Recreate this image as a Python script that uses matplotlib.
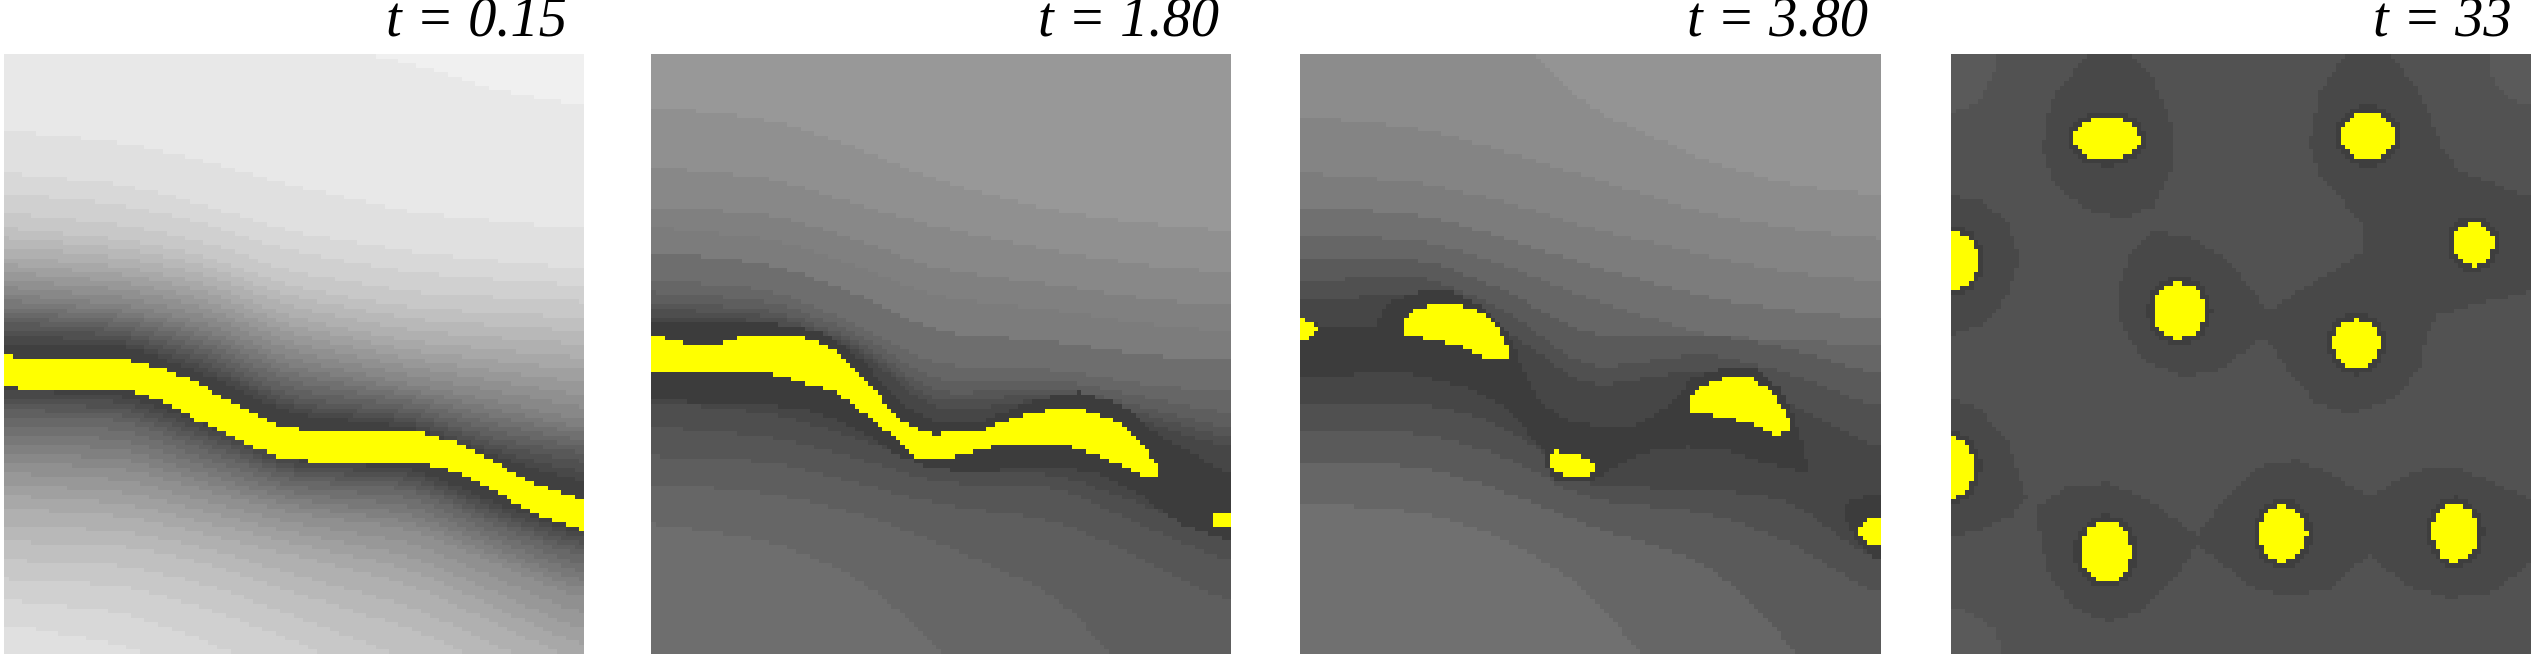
import matplotlib
import numpy as np
from matplotlib.path import Path

matplotlib.use("Agg")
import matplotlib.pyplot as plt

# All coordinates: x from the panel's left edge, y from 128 (top) to 1558 (bottom)
TITLES = ["t = 0.15", "t = 1.80", "t = 3.80", "t = 33"]
Y_TOP, Y_BOTTOM = 128, 1558
COLUMNS = np.array([0, 300, 500, 700, 1000, 1200, 1422])

# panel 1: gray value of each contour and its y at COLUMNS
P1_LEVELS = np.arange(64, 248, 8)
P1_GRAY = [237, 228, 220, 200, 170, 130, 90, 65, 60, 60, 100, 140, 170, 190, 208, 222]
P1_ROWS = [
    [-60, -20, 20, 50, 105, 175, 215],
    [310, 340, 385, 440, 505, 525, 545],
    [410, 440, 490, 550, 600, 620, 640],
    [530, 560, 600, 670, 720, 730, 740],
    [615, 640, 680, 760, 820, 840, 860],
    [705, 730, 775, 860, 920, 960, 1010],
    [770, 790, 850, 950, 985, 1050, 1085],
    [825, 825, 900, 990, 1020, 1090, 1160],
    [843, 855, 925, 1012, 1030, 1105, 1190],
    [915, 928, 1000, 1090, 1100, 1185, 1262],
    [990, 1000, 1075, 1145, 1165, 1250, 1330],
    [1100, 1115, 1170, 1220, 1260, 1340, 1430],
    [1200, 1220, 1265, 1310, 1380, 1470, 1570],
    [1300, 1310, 1350, 1420, 1510, 1600, 1700],
    [1400, 1420, 1480, 1550, 1700, 1800, 1900],
    [1500, 1558, 1650, 1800, 1950, 2050, 2150],
]
P1_YELLOW = [[
    (0, 843), (50, 855), (300, 855), (340, 867), (400, 880), (470, 910), (560, 960), (660, 1010),
    (760, 1030), (1020, 1030), (1120, 1058), (1220, 1110), (1320, 1160), (1422, 1190),
    (1422, 1262), (1320, 1232), (1220, 1180), (1120, 1130), (1020, 1100), (760, 1100),
    (660, 1085), (560, 1040), (470, 1000), (400, 960), (340, 940), (300, 928), (50, 928), (0, 915),
]]

# panel 2
P2_LEVELS = np.array([60, 70, 78, 86, 94, 102, 110, 124, 128, 136, 144, 152, 160])
P2_GRAY = [156, 148, 140, 132, 124, 115, 106, 94, 74, 70, 74, 82, 90, 98, 106, 115]
P2_ROWS = [
    [-300, -150, 30, 225, 375, 400, 425],
    [250, 285, 350, 430, 505, 530, 550],
    [395, 425, 485, 540, 600, 630, 650],
    [490, 510, 570, 640, 680, 710, 730],
    [555, 590, 650, 730, 760, 790, 810],
    [610, 640, 710, 810, 830, 860, 875],
    [665, 690, 770, 870, 880, 915, 935],
    [710, 730, 800, 930, 915, 960, 1010],
    [750, 765, 825, 985, 945, 1000, 1070],
    [850, 850, 920, 1070, 1010, 1100, 1200],
    [955, 985, 1040, 1120, 1130, 1200, 1290],
    [1015, 1040, 1090, 1150, 1160, 1250, 1340],
    [1085, 1100, 1150, 1200, 1240, 1330, 1440],
    [1150, 1175, 1220, 1290, 1420, 1640, 1800],
    [1245, 1290, 1370, 1530, 1900, 2100, 2300],
    [1385, 1500, 1800, 2100, 2400, 2600, 2800],
]
P2_DARK = [[
    (0, 765), (300, 770), (420, 790), (520, 860), (610, 960), (700, 1005), (820, 1000), (950, 950),
    (1050, 935), (1150, 960), (1250, 1040), (1422, 1130), (1422, 1290), (1300, 1250), (1200, 1180),
    (1100, 1130), (1000, 1110), (900, 1115), (800, 1125), (680, 1115), (600, 1080), (500, 1020),
    (400, 980), (250, 960), (0, 955),
]]
P2_YELLOW = [
    [(0, 797), (83, 818), (168, 818), (238, 797), (358, 797), (443, 830), (513, 890), (583, 970),
     (633, 1015), (693, 1033), (793, 1030), (923, 985), (1023, 970), (1093, 985), (1163, 1015),
     (1213, 1070), (1243, 1108), (1243, 1135), (1213, 1135), (1133, 1100), (1033, 1065), (923, 1055),
     (833, 1065), (703, 1098), (643, 1088), (593, 1040), (523, 985), (453, 935), (323, 895),
     (238, 885), (208, 890), (0, 890)],
    [(1371, 1235), (1383, 1220), (1422, 1220), (1422, 1257), (1388, 1257)],
]

# panel 3
P3_LEVELS = np.array([60, 70, 80, 90, 102, 112, 124, 132, 140, 148, 156])
P3_GRAY = [152, 144, 136, 128, 118, 107, 96, 85, 75, 68, 75, 85, 96, 107, 118]
P3_ROWS = [
    [-500, -400, -300, -200, -50, 235, 262],
    [-300, -100, 60, 255, 385, 440, 465],
    [275, 305, 360, 420, 510, 545, 570],
    [410, 435, 480, 540, 610, 650, 670],
    [490, 510, 565, 630, 710, 740, 760],
    [560, 570, 630, 710, 800, 810, 825],
    [620, 615, 690, 800, 795, 830, 895],
    [670, 655, 735, 880, 840, 890, 975],
    [715, 700, 780, 925, 875, 960, 1075],
    [820, 800, 880, 1040, 990, 1060, 1220],
    [965, 960, 1010, 1160, 1165, 1190, 1350],
    [1030, 1030, 1085, 1190, 1220, 1290, 1425],
    [1100, 1110, 1170, 1250, 1340, 1530, 1900],
    [1195, 1220, 1280, 1400, 1750, 1950, 2150],
    [1310, 1420, 1590, 1900, 2200, 2400, 2600],
]
P3_DARK = [
    [(0, 770), (180, 780), (210, 725), (290, 695), (370, 695), (450, 730), (510, 790), (540, 870),
     (580, 950), (650, 1000), (750, 1018), (830, 1010), (910, 960), (960, 900), (1030, 880),
     (1120, 880), (1180, 930), (1220, 1020), (1245, 1120), (1240, 1125), (1150, 1105), (1050, 1075),
     (950, 1065), (870, 1070), (810, 1090), (740, 1130), (700, 1150), (610, 1140), (600, 1080),
     (550, 1020), (490, 960), (400, 920), (250, 885), (0, 900)],
    [(1330, 1215), (1350, 1190), (1422, 1175), (1422, 1340), (1370, 1300), (1340, 1250)],
]
P3_YELLOW = [
    [(0, 758), (25, 768), (43, 787), (25, 805), (0, 815)],
    [(252, 760), (290, 735), (350, 722), (430, 735), (480, 770), (505, 815), (510, 855), (465, 858),
     (400, 825), (320, 810), (252, 795)],
    [(605, 1085), (625, 1075), (680, 1080), (725, 1105), (720, 1128), (695, 1138), (650, 1138), (615, 1110)],
    [(950, 960), (980, 920), (1030, 902), (1110, 902), (1160, 935), (1195, 1000), (1198, 1025),
     (1170, 1038), (1100, 1005), (1010, 990), (955, 980)],
    [(1366, 1260), (1385, 1238), (1422, 1228), (1422, 1298), (1390, 1295), (1370, 1275)],
]

# panel 4 (x in a 0..1469 reading of the same width)
P4_BASE = 82
P4_LIGHT = [
    [(0, 128), (113, 128), (108, 180), (73, 240), (0, 270)],
    [(1363, 128), (1373, 190), (1423, 240), (1469, 250), (1469, 128)],
    [(0, 1445), (53, 1460), (113, 1500), (128, 1558), (0, 1558)],
]
P4_DARK = [
    [(343, 128), (458, 128), (513, 190), (563, 300), (563, 400), (513, 490), (443, 522), (343, 500),
     (263, 440), (231, 350), (253, 240), (303, 180)],
    [(998, 128), (1113, 128), (1193, 230), (1243, 350), (1293, 410), (1469, 470), (1469, 695),
     (1323, 725), (1233, 750), (1203, 800), (1193, 870), (1123, 950), (1013, 985), (923, 960),
     (853, 880), (803, 810), (773, 815), (683, 880), (593, 897), (493, 860), (433, 780), (418, 700),
     (453, 600), (513, 548), (603, 565), (703, 620), (803, 740), (923, 670), (1043, 600), (1051, 550),
     (1013, 500), (933, 420), (908, 340), (933, 220)],
    [(0, 467), (73, 475), (143, 530), (173, 610), (148, 700), (83, 770), (0, 797)],
    [(0, 945), (73, 975), (143, 1050), (193, 1190), (153, 1230), (53, 1270), (0, 1272)],
    [(213, 1210), (293, 1160), (393, 1150), (503, 1190), (623, 1275), (693, 1190), (783, 1110),
     (873, 1095), (963, 1130), (1063, 1185), (1163, 1125), (1263, 1108), (1373, 1150), (1469, 1190),
     (1469, 1340), (1373, 1410), (1263, 1425), (1153, 1395), (1058, 1320), (963, 1400), (863, 1422),
     (763, 1400), (683, 1340), (623, 1300), (563, 1380), (493, 1450), (403, 1480), (313, 1450), (243, 1360)],
]
P4_BLOB_X = [395, 1056, 1323, -2, 579, 1027, -12, 392, 841, 1277]
P4_BLOB_Y = [330, 323, 581, 621, 740, 819, 1113, 1314, 1271, 1268]
P4_BLOB_RX = [83, 68, 51, 70, 66, 60, 73, 64, 60, 57]
P4_BLOB_RY = [50, 58, 51, 69, 66, 58, 74, 72, 66, 69]

PANEL_LEFT = [4, 651, 1300, 1951]
TITLE_RIGHT = [567, 1219, 1868, 2512]
PANEL_W, PANEL_H = 580, 600
FIG_W, FIG_H = 2535, 654
NX, NY = 128, 132


# cell centres of the coarse grid
def grid(width):
    xc = (np.arange(NX) + 0.5) * width / NX
    yc = Y_TOP + (np.arange(NY) + 0.5) * (Y_BOTTOM - Y_TOP) / NY
    return xc, yc


# gray field from contours read at COLUMNS, snapped to the panel's gray levels
def contour_field(rows, grays, levels):
    xc, yc = grid(COLUMNS[-1])
    rows = np.array(rows, dtype=float)
    dense = np.array([np.interp(xc, COLUMNS, row) for row in rows])
    kernel = np.ones(13) / 13
    dense = np.array([np.convolve(np.pad(d, 6, mode="edge"), kernel, mode="valid") for d in dense])
    dense = np.maximum.accumulate(dense, axis=0)
    field = np.zeros((NY, NX))
    for j in range(NX):
        values = np.interp(yc, dense[:, j], grays)
        field[:, j] = levels[np.abs(values[:, None] - levels).argmin(axis=1)]
    return field


def polygon_mask(polygon, width):
    xc, yc = grid(width)
    xx, yy = np.meshgrid(xc, yc)
    points = np.column_stack([xx.ravel(), yy.ravel()])
    return Path(polygon).contains_points(points).reshape(NY, NX)


def ellipse_mask(cx, cy, rx, ry, width):
    xc, yc = grid(width)
    xx, yy = np.meshgrid(xc, yc)
    return ((xx - cx) / rx) ** 2 + ((yy - cy) / ry) ** 2 <= 1


# gray field plus yellow mask as an RGB image
def to_rgb(field, yellow):
    rgb = np.repeat(field[:, :, None], 3, axis=2) / 255.0
    rgb[yellow] = [1, 1, 0]
    return rgb


def front_panel(rows, grays, levels, dark, yellow_polys):
    width = COLUMNS[-1]
    field = contour_field(rows, grays, levels)
    for polygon in dark:
        field[polygon_mask(polygon, width)] = 60
    yellow = np.zeros((NY, NX), dtype=bool)
    for polygon in yellow_polys:
        yellow |= polygon_mask(polygon, width)
    return to_rgb(field, yellow)


def blob_panel():
    width = 1469
    field = np.full((NY, NX), float(P4_BASE))
    for polygon in P4_LIGHT:
        field[polygon_mask(polygon, width)] = 90
    for polygon in P4_DARK:
        field[polygon_mask(polygon, width)] = 72
    yellow = np.zeros((NY, NX), dtype=bool)
    for cx, cy, rx, ry in zip(P4_BLOB_X, P4_BLOB_Y, P4_BLOB_RX, P4_BLOB_RY):
        field[ellipse_mask(cx, cy, rx + 15, ry + 15, width)] = 62
        yellow |= ellipse_mask(cx, cy, rx, ry, width)
    return to_rgb(field, yellow)


def main():
    images = [
        front_panel(P1_ROWS, P1_GRAY, P1_LEVELS, [], P1_YELLOW),
        front_panel(P2_ROWS, P2_GRAY, P2_LEVELS, P2_DARK, P2_YELLOW),
        front_panel(P3_ROWS, P3_GRAY, P3_LEVELS, P3_DARK, P3_YELLOW),
        blob_panel(),
    ]

    fig = plt.figure(figsize=(FIG_W / 100, FIG_H / 100), dpi=100)
    for image, left, title, right in zip(images, PANEL_LEFT, TITLES, TITLE_RIGHT):
        ax = fig.add_axes([left / FIG_W, 0, PANEL_W / FIG_W, PANEL_H / FIG_H])
        ax.imshow(image, interpolation="nearest", aspect="auto")
        ax.axis("off")
        fig.text(right / FIG_W, (FIG_H - 36) / FIG_H, title, ha="right", va="baseline",
                 family="Liberation Serif", style="italic", fontsize=40.7)

    fig.savefig("out.png", dpi=100)
    plt.close(fig)


if __name__ == "__main__":
    main()
